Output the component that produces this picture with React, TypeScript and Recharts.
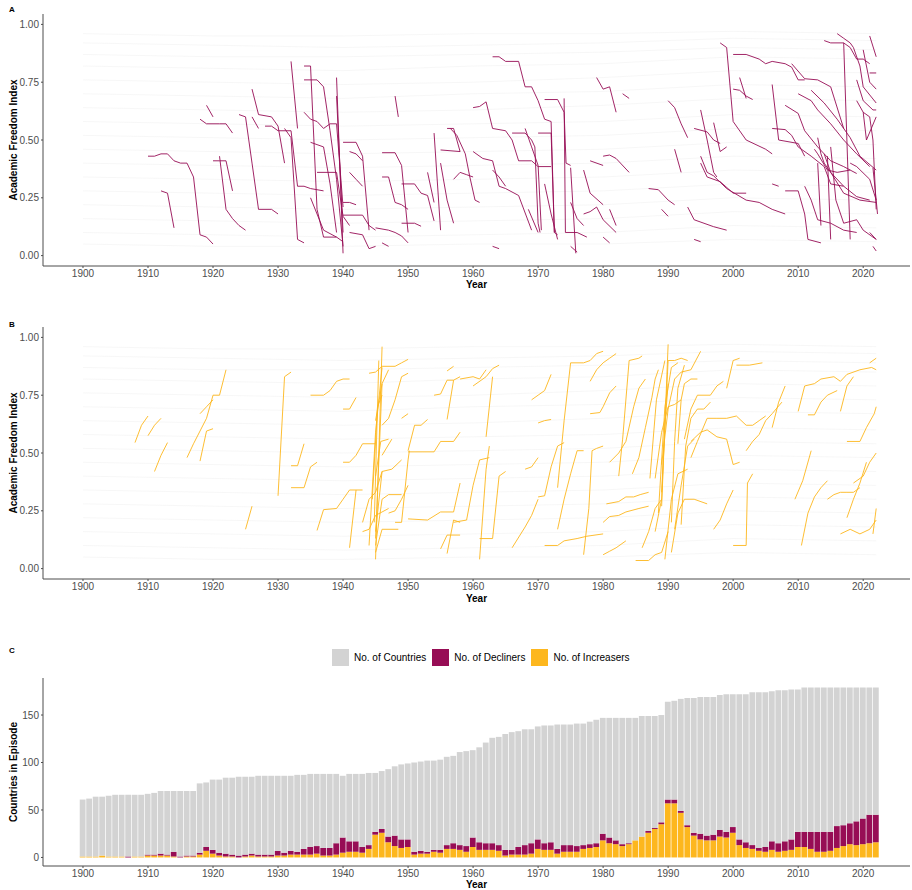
import React from "react";
import { LineChart, Line, XAxis, YAxis, ComposedChart, Bar } from "recharts";

const FONT = "'Liberation Sans', Arial, Helvetica, sans-serif";
const DECL = "#970d55";
const INCR = "#fdb71e";
const GRAY = "#d3d3d3";
const AXIS = "#4d4d4d";

// shared x scale for all three panels
const X_DOMAIN = [1893.85, 2027.2];
const YEAR_TICKS = [1900, 1910, 1920, 1930, 1940, 1950, 1960, 1970, 1980, 1990, 2000, 2010, 2020];
const AFI_TICKS = [0, 0.25, 0.5, 0.75, 1];
const COUNT_TICKS = [0, 50, 100, 150];

// ---- panel C: counts per year, 1900..2022 ----
const YEARS = Array.from({ length: 123 }, (_, i) => 1900 + i);

const countries = [
  61, 62, 64, 64, 65, 66, 66, 66, 66, 66,
  67, 68, 70, 70, 70, 70, 70, 70, 78, 79,
  82, 82, 84, 84, 85, 85, 85, 86, 86, 86,
  86, 86, 86, 87, 87, 88, 88, 88, 88, 88,
  86, 88, 88, 88, 89, 89, 91, 93, 96, 98,
  99, 100, 101, 102, 102, 103, 106, 107, 111, 112,
  113, 116, 121, 126, 127, 130, 132, 133, 135, 135,
  138, 139, 139, 140, 140, 140, 141, 141, 143, 145,
  147, 147, 147, 147, 147, 147, 149, 149, 149, 150,
  164, 165, 167, 168, 168, 169, 169, 169, 171, 172,
  172, 172, 172, 174, 174, 174, 175, 176, 176, 177,
  177, 179, 179, 179, 179, 179, 179, 179, 179, 179,
  179, 179, 179,
];

const increasers = [
  1, 1, 1, 2, 1, 1, 1, 0, 1, 1,
  2, 2, 2, 2, 1, 0, 1, 1, 3, 7,
  4, 2, 1, 1, 0, 1, 2, 1, 1, 1,
  2, 2, 3, 3, 3, 3, 4, 2, 2, 3,
  5, 6, 6, 5, 9, 24, 26, 16, 12, 10,
  11, 3, 4, 4, 6, 5, 9, 9, 8, 6,
  11, 8, 8, 8, 7, 2, 3, 3, 3, 4,
  9, 8, 8, 4, 6, 6, 6, 9, 10, 11,
  18, 15, 14, 12, 14, 18, 22, 26, 30, 35,
  57, 57, 47, 32, 23, 19, 18, 18, 22, 21,
  26, 13, 10, 9, 7, 6, 8, 6, 7, 8,
  11, 11, 9, 6, 6, 7, 10, 12, 14, 13,
  14, 15, 16,
];

const decliners = [
  0, 0, 0, 0, 0, 0, 0, 1, 0, 0,
  1, 1, 2, 1, 5, 1, 1, 1, 2, 4,
  4, 3, 3, 2, 2, 2, 2, 2, 2, 2,
  5, 3, 4, 3, 6, 8, 8, 8, 8, 12,
  16, 11, 11, 6, 4, 3, 4, 6, 11, 9,
  8, 3, 3, 2, 2, 3, 4, 6, 5, 6,
  10, 8, 7, 7, 6, 6, 5, 8, 10, 11,
  10, 7, 8, 5, 7, 7, 6, 4, 4, 4,
  7, 6, 4, 2, 1, 0, 0, 2, 1, 2,
  4, 4, 2, 2, 3, 6, 5, 6, 7, 6,
  6, 6, 6, 4, 3, 5, 9, 9, 10, 11,
  16, 16, 18, 21, 21, 20, 23, 22, 22, 25,
  27, 30, 29,
];

// ---- panels A/B: faint trajectories of all countries ----
const BG_YEARS = [1900, 1920, 1940, 1960, 1980, 2000, 2022];
const bgSeries = [
  [0.96, 0.95, 0.95, 0.96, 0.96, 0.97, 0.96],
  [0.92, 0.91, 0.9, 0.91, 0.92, 0.94, 0.93],
  [0.87, 0.86, 0.86, 0.87, 0.88, 0.9, 0.89],
  [0.82, 0.81, 0.8, 0.82, 0.83, 0.86, 0.85],
  [0.76, 0.75, 0.74, 0.75, 0.77, 0.8, 0.79],
  [0.7, 0.69, 0.68, 0.7, 0.71, 0.74, 0.73],
  [0.64, 0.63, 0.62, 0.63, 0.65, 0.68, 0.67],
  [0.58, 0.57, 0.56, 0.57, 0.58, 0.61, 0.6],
  [0.52, 0.51, 0.5, 0.51, 0.52, 0.55, 0.54],
  [0.46, 0.45, 0.44, 0.45, 0.46, 0.49, 0.48],
  [0.4, 0.39, 0.38, 0.39, 0.4, 0.43, 0.42],
  [0.34, 0.33, 0.32, 0.33, 0.34, 0.37, 0.36],
  [0.28, 0.27, 0.26, 0.27, 0.28, 0.31, 0.3],
  [0.22, 0.21, 0.2, 0.21, 0.22, 0.25, 0.24],
  [0.16, 0.15, 0.14, 0.15, 0.16, 0.19, 0.18],
  [0.1, 0.09, 0.08, 0.09, 0.1, 0.13, 0.12],
  [0.05, 0.04, 0.04, 0.05, 0.05, 0.07, 0.06],
];

// episodes as flat [year, value, year, value, ...]
const declineEpisodes = [
  [1910, .43, 1911, .43, 1912, .44, 1913, .44, 1914, .41, 1915, .40, 1916, .40, 1917, .34, 1918, .09, 1919, .08, 1920, .05],
  [1912, .28, 1913, .27, 1914, .12],
  [1919, .65, 1920, .60],
  [1918, .59, 1919, .57, 1921, .57, 1922, .57, 1923, .53],
  [1920, .41, 1921, .41, 1922, .41, 1923, .28],
  [1921, .43, 1922, .20, 1923, .16, 1924, .13, 1925, .11],
  [1924, .61, 1925, .60, 1926, .40, 1927, .20, 1929, .20, 1930, .18],
  [1926, .72, 1927, .61, 1929, .60, 1930, .56, 1931, .40],
  [1926, .60, 1927, .55],
  [1928, .56, 1929, .56, 1930, .54, 1932, .54, 1933, .30, 1934, .30, 1935, .29, 1937, .28],
  [1932, .84, 1933, .55],
  [1931, .55, 1932, .51, 1933, .07, 1934, .055],
  [1934, .82, 1935, .82, 1936, .20, 1937, .08, 1939, .08, 1940, .06],
  [1934, .76, 1936, .76, 1937, .73, 1938, .54, 1939, .33, 1940, .04],
  [1934, .62, 1935, .59, 1936, .58, 1937, .55, 1938, .57, 1939, .57, 1940, .21],
  [1935, .49, 1936, .48, 1937, .47, 1938, .31, 1939, .10],
  [1936, .36, 1939, .36, 1940, .17, 1941, .13],
  [1935, .25, 1936, .18, 1937, .11, 1939, .08],
  [1939, .77, 1940, .01],
  [1939, .69, 1940, .10],
  [1940, .49, 1942, .49, 1943, .43, 1944, .11],
  [1940, .23, 1941, .23, 1942, .22],
  [1940, .175, 1943, .175, 1944, .13, 1945, .11],
  [1941, .45, 1942, .44, 1943, .41],
  [1941, .36, 1942, .33, 1943, .30],
  [1941, .10, 1943, .09, 1944, .03, 1945, .04],
  [1946, .445, 1948, .445, 1949, .39, 1950, .10],
  [1946, .34, 1947, .34, 1948, .23, 1949, .22, 1950, .20],
  [1948, .69, 1948.5, .60],
  [1945, .12, 1947, .11, 1948, .10, 1949, .085, 1950, .055],
  [1946, .055, 1947, .04],
  [1949, .31, 1951, .31, 1952, .27, 1953, .26, 1954, .15],
  [1949, .14, 1951, .14, 1952, .127],
  [1954, .53, 1955, .11],
  [1953, .36, 1954, .23],
  [1955, .457, 1958, .45],
  [1956, .55, 1957, .55, 1958, .45],
  [1955, .40, 1956, .24, 1957, .14],
  [1956.5, .55, 1957.5, .52, 1958.8, .44, 1959.5, .34, 1960.3, .24, 1961, .23],
  [1957, .33, 1958, .36, 1959, .35, 1960, .34],
  [1960, .64, 1961, .645, 1962, .665, 1963, .55, 1965, .54, 1966, .50, 1967, .41, 1969, .41, 1970, .385, 1972, .385],
  [1960, .45, 1961.5, .42, 1963, .41, 1964, .30, 1965, .29, 1967, .26, 1969, .11],
  [1963, .37, 1964, .34, 1965, .30],
  [1963, .86, 1964, .86, 1965, .84, 1967, .84, 1968, .73, 1969, .73, 1970, .67, 1971, .59, 1972, .58, 1972.5, .10],
  [1966, .53, 1968, .53, 1969, .50, 1969.5, .47, 1970, .14, 1970.3, .10],
  [1968, .55, 1969, .47, 1970, .39, 1970.5, .11],
  [1968.5, .20, 1970, .10],
  [1971, .31, 1972, .18, 1973, .07],
  [1970, .53, 1972, .53, 1972.5, .10, 1973, .09],
  [1971, .675, 1973, .675, 1974, .62, 1974.3, .40, 1975, .39],
  [1974, .68, 1974.2, .10, 1976, .10, 1977.5, .08],
  [1975, .38, 1975.8, .01],
  [1975, .23, 1976, .16, 1977, .13],
  [1975, .04, 1976, .015],
  [1963, .04, 1964, .03],
  [1977, .37, 1978, .27, 1980, .22],
  [1977, .18, 1978, .19, 1979, .21, 1980, .155, 1982, .10],
  [1978, .41, 1980, .39],
  [1980, .43, 1981, .435, 1982, .42, 1984, .36],
  [1979, .77, 1980, .72, 1981, .73, 1982, .62],
  [1983, .70, 1984, .68],
  [1981, .20, 1982, .13],
  [1980, .08, 1981, .055],
  [1987, .29, 1988.5, .285, 1990, .24, 1991, .22],
  [1989, .20, 1990, .17],
  [1990, .67, 1991, .64, 1992, .57, 1993, .51],
  [1991, .46, 1992, .36],
  [1993, .21, 1994, .155, 1997, .125, 1999, .11],
  [1994, .07, 1995, .06],
  [1994, .55, 1996, .535, 1997, .50, 1998, .485],
  [1995, .63, 1996, .50, 1997, .36, 1997.5, .34],
  [1997, .575, 1998, .45, 1999, .47],
  [1995, .40, 1996, .34, 1998, .32, 2000, .27, 2002, .27],
  [1995, .43, 1996, .36, 1997, .345, 1999, .29, 2002, .24, 2004, .23, 2006, .20, 2008, .18],
  [1998, .92, 1999, .90, 2000, .58, 2002, .50, 2005, .46, 2006, .44],
  [2000, .87, 2002, .87, 2004, .85, 2005, .83, 2006, .84, 2008, .83, 2009, .815, 2010, .76, 2011, .76],
  [2000, .72, 2001, .715, 2002, .69, 2003, .675],
  [2001, .77, 2002, .68],
  [2006, .74, 2007, .50, 2010, .485, 2011, .43],
  [2006, .55, 2008, .545, 2009, .52, 2010, .47, 2012, .43, 2014, .385, 2015, .31, 2017, .30],
  [2008, .65, 2010, .615, 2011, .54, 2013, .47, 2015, .41, 2017, .385, 2019, .355],
  [2006, .31, 2007, .30],
  [2008, .28, 2010, .28, 2011, .18, 2011.5, .07, 2013.5, .055],
  [2009, .83, 2011, .765, 2013, .76, 2015, .73, 2017, .55],
  [2014, .93, 2015, .92, 2017, .92, 2018, .90, 2019, .85, 2020, .85, 2021, .83],
  [2016, .96, 2017, .94, 2018, .92, 2018.5, .90, 2019.5, .82, 2020, .73, 2022, .66],
  [2017, .92, 2018, .07],
  [2021, .95, 2022, .86],
  [2020, .89, 2021, .75, 2022, .72],
  [2019, .67, 2020, .62, 2020.5, .50, 2022, .60],
  [2010, .70, 2012, .67, 2013, .63, 2015, .57, 2017, .50, 2019, .44, 2021, .385],
  [2012, .715, 2014, .66, 2016, .59, 2018, .51, 2019.5, .43, 2022, .37],
  [2013, .51, 2013.5, .44, 2014, .40, 2015, .36, 2017, .27, 2019.5, .24, 2022, .23],
  [2015, .47, 2015.8, .24, 2017, .14, 2019, .155, 2020, .11, 2022, .07],
  [2011, .30, 2012, .24, 2013, .155, 2015, .14, 2017, .11, 2019, .10],
  [2014, .44, 2015, .36, 2017, .30, 2019, .255, 2021, .24],
  [2021, .10, 2022, .07],
  [2021.5, .04, 2022, .02],
  [2018, .40, 2019, .385, 2021, .33, 2022, .24],
  [2019, .76, 2020, .67, 2021.5, .63, 2022, .63],
  [2021, .79, 2022, .79],
  [2012.5, .46, 2013, .44, 2014.5, .37, 2016, .36, 2018, .37],
  [2014.5, .43, 2015, .07],
  [2013, .40, 2013.5, .13],
  [2021.5, .38, 2022, .24, 2022.2, .18],
  [2020, .62, 2021, .60, 2021.5, .50, 2022, .20],
];

const increaseEpisodes = [
  [1908, .545, 1909, .62, 1910, .66],
  [1910, .575, 1911, .62, 1912, .65],
  [1911, .42, 1912, .49, 1913, .545],
  [1916, .48, 1917, .54, 1918, .595, 1919, .65, 1920, .75, 1921, .75, 1922, .86],
  [1918, .67, 1919, .70, 1920, .73],
  [1918, .465, 1919, .595, 1920, .605],
  [1925, .17, 1926, .27],
  [1930, .315, 1931, .83, 1932, .85],
  [1932, .445, 1933, .445, 1934, .54],
  [1932, .35, 1934, .35, 1935, .44, 1936, .46],
  [1935, .75, 1937, .75, 1938, .77, 1939, .81, 1940, .82, 1941, .82],
  [1940, .69, 1941, .69, 1942, .74],
  [1936, .165, 1937, .255, 1939, .26, 1940, .30, 1941, .34, 1943, .34],
  [1940, .46, 1941, .46, 1942, .49, 1943, .54, 1945, .54],
  [1941, .09, 1942, .34],
  [1945, .04, 1946, .96],
  [1944, .10, 1945, .59, 1946, .87],
  [1945, .13, 1946, .80],
  [1945, .10, 1946, .30, 1947, .32, 1949, .32],
  [1945, .07, 1946, .17, 1948.5, .17],
  [1945, .16, 1946, .42, 1947.5, .43, 1949, .47],
  [1944, .845, 1945, .85, 1946, .875, 1948, .875, 1949, .89, 1950, .905],
  [1945, .64, 1946, .80, 1947, .86],
  [1943, .20, 1944, .30, 1945, .33, 1946, .42],
  [1943, .16, 1944, .17, 1945, .23, 1946, .245, 1947, .26],
  [1946, .62, 1947, .65, 1948, .73, 1949, .83, 1950, .845],
  [1946, .49, 1947.5, .56],
  [1944.5, .30, 1945.3, .70, 1946, .75],
  [1944.8, .20, 1945.5, .90],
  [1945, .40, 1945.8, .55, 1947, .56],
  [1947, .24, 1948, .25, 1949, .30, 1950, .36],
  [1948, .20, 1949, .20, 1950, .47, 1950.2, .51],
  [1950, .51, 1951, .62, 1952, .62, 1953, .645],
  [1949, .65, 1950, .67],
  [1950, .505, 1954, .505, 1955, .55, 1957, .55, 1958, .59],
  [1950, .215, 1953, .21, 1955, .245, 1957, .245, 1958, .37],
  [1954, .75, 1955, .755, 1956, .815, 1957, .815, 1958, .83],
  [1956, .855, 1957, .875],
  [1956, .645, 1957, .815],
  [1955, .085, 1956, .145, 1958, .145],
  [1956, .065, 1957, .21, 1958, .20],
  [1958, .82, 1960, .83, 1961, .82, 1962, .86],
  [1960, .79, 1962, .83, 1963, .865, 1964, .88],
  [1962, .57, 1963, .83],
  [1961, .04, 1962, .43, 1962.5, .53],
  [1961, .13, 1963, .13, 1964, .40, 1965, .42],
  [1957, .20, 1959, .21, 1960, .36, 1961, .47, 1962.5, .48],
  [1966, .09, 1968, .18, 1969, .23, 1970, .30],
  [1968, .43, 1969, .44, 1970, .48],
  [1969, .73, 1970, .75, 1971, .77, 1972, .84],
  [1970, .31, 1971, .315, 1972, .44, 1973, .53, 1974, .545],
  [1970, .63, 1971, .64, 1972, .645],
  [1971, .10, 1973, .10, 1974, .12, 1976, .13, 1977.5, .14, 1980, .15],
  [1973, .17, 1974, .30, 1975, .41, 1976, .51, 1977, .51],
  [1973, .35, 1974, .64, 1975, .89, 1977, .89, 1978, .90, 1979, .93, 1980, .94],
  [1977, .06, 1977.8, .26, 1978.3, .51, 1979, .52, 1980, .53],
  [1978, .81, 1979, .86, 1980, .89, 1981, .91, 1982, .93],
  [1978, .67, 1979.5, .675, 1980, .70, 1981, .76, 1982, .79],
  [1980, .06, 1981, .075, 1982, .09, 1983.5, .12],
  [1980, .20, 1981, .225, 1982.4, .23, 1983.5, .245, 1985.5, .26, 1987, .27],
  [1980.5, .28, 1982.4, .29, 1983.5, .31, 1984.7, .31, 1985.7, .32, 1987, .33],
  [1981, .46, 1982.4, .50, 1983.5, .55, 1984.7, .70, 1985.5, .78, 1986.5, .82],
  [1982.4, .40, 1983, .56, 1984, .90, 1985.5, .91, 1986, .92],
  [1984.5, .41, 1985.5, .48, 1986.5, .61, 1987.5, .74, 1988, .82, 1988.5, .86],
  [1986, .09, 1987, .16, 1988, .26, 1989, .30],
  [1985, .035, 1987, .035, 1988, .06, 1989, .07, 1990, .16],
  [1989, .27, 1990, .97],
  [1989, .33, 1990, .90, 1991, .90, 1992, .91, 1993, .90],
  [1988.5, .24, 1989.5, .70, 1990.5, .87, 1991.5, .89],
  [1988, .39, 1989, .59, 1990, .70, 1991, .71, 1992, .73],
  [1989, .45, 1990, .69, 1991, .82, 1992, .85, 1993.5, .86, 1995, .94],
  [1989.5, .04, 1990.5, .30, 1991.5, .41, 1993, .43],
  [1990.5, .07, 1991.5, .24, 1992.5, .30, 1994, .30, 1996, .28],
  [1991, .17, 1992, .36, 1993, .53, 1994, .56],
  [1991.5, .54, 1992, .73, 1992.5, .80, 1993.5, .82, 1994.5, .82],
  [1992, .19, 1992.7, .53, 1993.5, .65, 1994.5, .69, 1995.5, .69, 1996.5, .72],
  [1992.5, .56, 1993.5, .69, 1994.5, .75, 1996.5, .75, 1997.5, .79, 1998.5, .81],
  [1987.2, .39, 1988.2, .73, 1989.5, .90],
  [1988, .16, 1989, .30, 1989.5, .62, 1990, .80],
  [1990.5, .20, 1991, .55, 1991.5, .78, 1992.5, .88],
  [1993.5, .48, 1994.5, .55, 1996, .65, 1997.5, .65, 1999, .65, 2000.5, .66, 2002, .62, 2003, .62, 2004, .64, 2005, .66],
  [1993.5, .55, 1995, .59, 1996, .60, 1997.5, .57, 1999, .56, 2000, .45, 2001, .46],
  [1997, .17, 1998, .21, 1999, .28, 2000, .34],
  [2000, .10, 2002, .10, 2002.2, .37, 2003, .41],
  [2000.5, .88, 2002.5, .88, 2004.5, .89],
  [1999, .78, 2000, .90, 2001, .91],
  [2002, .51, 2003, .55, 2004, .58, 2005, .64, 2006, .67, 2007.5, .72],
  [2006, .61, 2007, .72, 2008, .79],
  [2009.5, .30, 2010.7, .38, 2012, .51],
  [2010.5, .10, 2011.5, .24, 2012.5, .31, 2013.5, .35, 2014.5, .38],
  [2010, .68, 2011, .79, 2012.5, .80, 2013.5, .82, 2015.5, .83, 2016.5, .81, 2017.5, .84, 2019.5, .86, 2021.3, .87, 2022, .86],
  [2011.5, .665, 2012.5, .665, 2013.5, .72, 2014.5, .75, 2016, .77],
  [2014.5, .30, 2015.5, .32, 2016.5, .33, 2017.5, .33, 2018.5, .33, 2019.5, .35],
  [2016.5, .15, 2018, .17, 2019.5, .15, 2021, .17, 2022, .21],
  [2017.5, .55, 2019.5, .55, 2020.5, .61, 2021.7, .67, 2022, .70],
  [2016.5, .68, 2017.5, .79, 2018.5, .83],
  [2018.5, .37, 2020, .40, 2021, .46, 2022, .50],
  [2017.5, .22, 2018.5, .30, 2019.5, .37, 2020.5, .46],
  [2021.5, .15, 2022, .26],
  [2021, .89, 2022, .91],
];

type Pt = { x: number; y: number };

function toPoints(flat: number[]): Pt[] {
  const out: Pt[] = [];
  for (let i = 0; i + 1 < flat.length; i += 2) out.push({ x: flat[i], y: flat[i + 1] });
  return out;
}

const bgLines = bgSeries.map((vals) => vals.map((v, i) => ({ x: BG_YEARS[i], y: v })));

const barRows = YEARS.map((year, i) => ({
  year,
  inc: increasers[i],
  dec: decliners[i],
  rest: countries[i] - increasers[i] - decliners[i],
}));

const tickStyle = { fill: AXIS, fontSize: 10, fontFamily: FONT };
const axisLine = { stroke: AXIS, strokeWidth: 1 };

const titleStyle: React.CSSProperties = {
  position: "absolute",
  fontFamily: FONT,
  fontWeight: 700,
  fontSize: 10,
  color: "#000",
  whiteSpace: "nowrap",
  lineHeight: 1,
};

function YTitle({ text, cy }: { text: string; cy: number }) {
  return (
    <div style={{ ...titleStyle, left: 13.5, top: cy, transform: "translate(-50%, -50%) rotate(-90deg)" }}>
      {text}
    </div>
  );
}

function XTitle({ cy }: { cy: number }) {
  return (
    <div style={{ ...titleStyle, left: 476.5, top: cy, transform: "translate(-50%, -50%)" }}>Year</div>
  );
}

function PanelLetter({ letter, cy }: { letter: string; cy: number }) {
  return (
    <div style={{ ...titleStyle, fontSize: 8, left: 12, top: cy, transform: "translate(-50%, -50%)" }}>
      {letter}
    </div>
  );
}

function EpisodePanel({ episodes, color, top }: { episodes: number[][]; color: string; top: number }) {
  return (
    <div style={{ position: "absolute", left: 0, top }}>
      <LineChart width={912} height={300} margin={{ top: 14, right: 2, bottom: 0, left: 0 }}>
        <XAxis
          type="number"
          dataKey="x"
          domain={X_DOMAIN}
          ticks={YEAR_TICKS}
          interval={0}
          allowDataOverflow
          height={34}
          tickSize={2}
          tickMargin={2}
          tick={tickStyle}
          axisLine={axisLine}
          tickLine={axisLine}
        />
        <YAxis
          type="number"
          domain={[-0.045, 1.045]}
          ticks={AFI_TICKS}
          interval={0}
          allowDataOverflow
          width={43}
          tickSize={2}
          tickMargin={2}
          tick={tickStyle}
          axisLine={axisLine}
          tickLine={axisLine}
          tickFormatter={(v: number) => v.toFixed(2)}
        />
        {bgLines.map((pts, i) => (
          <Line
            key={`bg-${i}`}
            data={pts}
            dataKey="y"
            stroke="#eeeeee"
            strokeOpacity={0.8}
            strokeWidth={0.6}
            dot={false}
            activeDot={false}
            isAnimationActive={false}
          />
        ))}
        {episodes.map((ep, i) => (
          <Line
            key={`ep-${i}`}
            data={toPoints(ep)}
            dataKey="y"
            stroke={color}
            strokeWidth={1}
            strokeOpacity={0.9}
            dot={false}
            activeDot={false}
            isAnimationActive={false}
          />
        ))}
      </LineChart>
    </div>
  );
}

const legendItems = [
  { label: "No. of Countries", color: GRAY },
  { label: "No. of Decliners", color: DECL },
  { label: "No. of Increasers", color: INCR },
];

export default function App() {
  return (
    <div style={{ position: "absolute", left: 0, top: 0, width: 912, height: 890, overflow: "hidden", background: "#fff" }}>
      <EpisodePanel episodes={declineEpisodes} color={DECL} top={0} />
      <EpisodePanel episodes={increaseEpisodes} color={INCR} top={313} />

      <div style={{ position: "absolute", left: 0, top: 620 }}>
        <ComposedChart width={912} height={280} data={barRows} margin={{ top: 58, right: 2, bottom: 10, left: 0 }}>
          <XAxis
            type="number"
            dataKey="year"
            domain={X_DOMAIN}
            ticks={YEAR_TICKS}
            interval={0}
            allowDataOverflow
            height={24}
            tickSize={2}
            tickMargin={2}
            tick={tickStyle}
            axisLine={axisLine}
            tickLine={axisLine}
          />
          <YAxis
            type="number"
            domain={[-9, 189]}
            ticks={COUNT_TICKS}
            interval={0}
            allowDataOverflow
            width={43}
            tickSize={2}
            tickMargin={2}
            tick={tickStyle}
            axisLine={axisLine}
            tickLine={axisLine}
          />
          <Bar dataKey="inc" stackId="c" fill={INCR} barSize={5.8} isAnimationActive={false} />
          <Bar dataKey="dec" stackId="c" fill={DECL} barSize={5.8} isAnimationActive={false} />
          <Bar dataKey="rest" stackId="c" fill={GRAY} barSize={5.8} isAnimationActive={false} />
        </ComposedChart>
      </div>

      {/* legend for panel C */}
      <div style={{ position: "absolute", left: 332, top: 649, display: "flex", alignItems: "center", fontFamily: FONT, fontSize: 10, color: "#000" }}>
        {legendItems.map((it) => (
          <div key={it.label} style={{ display: "flex", alignItems: "center", marginRight: 6 }}>
            <span style={{ width: 17, height: 17, background: it.color, marginRight: 5, display: "inline-block" }} />
            <span>{it.label}</span>
          </div>
        ))}
      </div>

      <PanelLetter letter="A" cy={10} />
      <PanelLetter letter="B" cy={325} />
      <PanelLetter letter="C" cy={651} />
      <YTitle text="Academic Freedom Index" cy={140} />
      <YTitle text="Academic Freedom Index" cy={453} />
      <YTitle text="Countries in Episode" cy={772} />
      <XTitle cy={285} />
      <XTitle cy={599} />
      <XTitle cy={885} />
    </div>
  );
}
